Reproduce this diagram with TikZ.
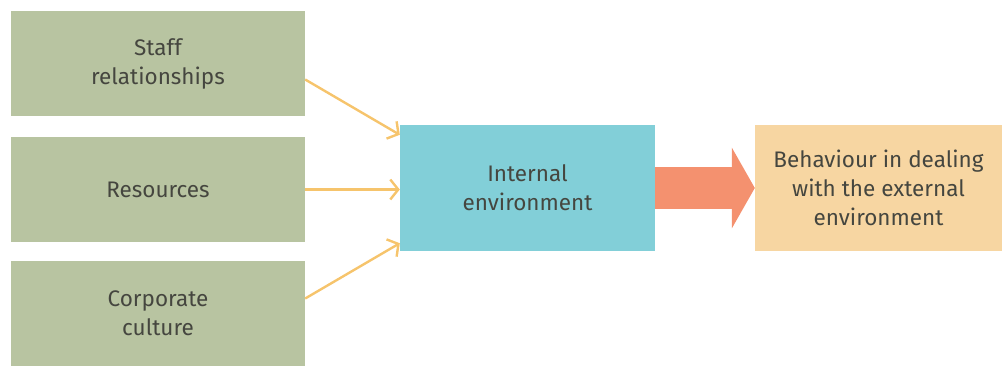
\documentclass[tikz,border=0pt]{standalone}
\usepackage{fontspec}
\setmainfont{Fira Sans}
\usetikzlibrary{calc,arrows.meta}

\definecolor{factorgreen}{HTML}{B8C4A1}
\definecolor{envblue}{HTML}{82CFD8}
\definecolor{behavsand}{HTML}{F7D6A2}
\definecolor{bigarrow}{HTML}{F4916F}
\definecolor{thinarrow}{HTML}{F6C46C}
\definecolor{boxtext}{HTML}{45463F}

\tikzset{
  factor/.style={fill=factorgreen, minimum width=294pt, minimum height=105pt,
                 align=center, text=boxtext, font=\fontsize{22.5}{29}\selectfont},
  envbox/.style={minimum width=255pt, minimum height=126pt, align=center,
                 text=boxtext, font=\fontsize{22.5}{29}\selectfont},
  feed/.style={draw=thinarrow, line width=2.4pt,
               -{Straight Barb[length=8pt,width=20pt,line width=2.4pt]}}
}

\begin{document}
\begin{tikzpicture}[x=1pt, y=-1pt]
  \useasboundingbox (0,0) rectangle (1002,376);

  \node[factor] (staff) at (158,63.5)  {Staff\\relationships};
  \node[factor] (res)   at (158,189.5) {Resources};
  \node[factor] (corp)  at (158,313.5) {Corporate\\culture};

  \node[envbox, fill=envblue] (int) at (527.5,188) {Internal\\environment};
  \node[envbox, fill=behavsand, minimum width=247pt] (beh) at (878.5,188)
       {Behaviour in dealing\\with the external\\environment};

  \draw[feed] ($(staff.east)+(0,16)$) -- ($(int.north west)+(0,10)$);
  \draw[feed] (res.east) -- (res.east -| int.west);
  \draw[feed] ($(corp.east)+(0,-15)$) -- ($(int.south west)+(0,-8)$);

  \draw[draw=bigarrow, line width=42pt,
        -{Triangle[length=23pt,width=80pt,fill=bigarrow]}] (int.east) -- (beh.west);
\end{tikzpicture}
\end{document}
